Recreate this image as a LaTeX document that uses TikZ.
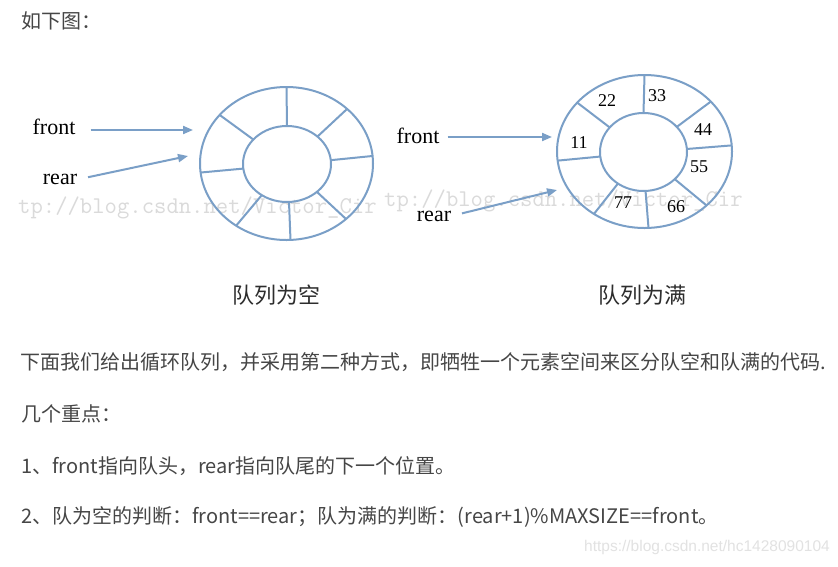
\documentclass[tikz,border=0pt]{standalone}
\usepackage{fontspec}
\setmainfont{Liberation Serif}
\setsansfont{Liberation Sans}
\newfontfamily\cjk{Noto Sans CJK SC}
\usetikzlibrary{arrows.meta,shapes.geometric}

\definecolor{ringblue}{RGB}{122,159,199}
\definecolor{bodygray}{RGB}{70,70,70}
\definecolor{capgray}{RGB}{45,45,45}
\definecolor{wmgray}{RGB}{218,218,218}
\definecolor{urlgray}{RGB}{226,226,226}

\begin{document}
\begin{tikzpicture}[
  x=1pt, y=-1pt,
  ring/.style={ellipse, draw=ringblue, line width=2pt, inner sep=0pt, outer sep=0pt},
  spoke/.style={draw=ringblue, line width=2pt},
  arr/.style={-{Triangle[length=10pt, width=8pt]}, draw=ringblue, line width=2pt, shorten <=11pt},
  ptr/.style={font=\fontsize{22}{24}\selectfont, text=black, inner sep=0pt},
  num/.style={font=\fontsize{18}{20}\selectfont, text=black, inner sep=0pt},
  capt/.style={font=\cjk\fontsize{22}{24}\selectfont, text=capgray, inner sep=0pt},
  para/.style={font=\cjk\fontsize{20}{24}\selectfont, text=bodygray, anchor=west, inner sep=0pt},
  wmark/.style={font=\ttfamily\fontsize{24}{24}\selectfont, text=wmgray, anchor=west, inner sep=0pt},
]
  \fill[white] (0,0) rectangle (838,566);
  \useasboundingbox (0,0) rectangle (838,566);

  % Watermarks behind the rings
  \node[wmark] (wmL) at (18,208) {tp://blog.csdn.net/Victor\_Cir};
  \node[wmark] (wmR) at (384,201) {tp://blog.csdn.net/Victor\_Cir};

  % Intro line
  \node[para] (intro) at (21,21) {如下图：};

  % Empty queue
  \node[ring, minimum width=173pt, minimum height=153pt] (outL) at (286.5,163.5) {};
  \node[ring, minimum width=88pt, minimum height=76pt] (inL) at (287,164) {};
  \foreach \a in {90,42,5,-43,-87,-129,-174,144}
    \draw[spoke] (inL.\a) -- (outL.\a);

  \node[ptr] (frontL) at (54,127) {front};
  \node[ptr] (rearL) at (60,179.5) {rear};
  \coordinate (frontLtip) at (193,130);
  \coordinate (rearLtip) at (188,156);
  \draw[arr, shorten <=15pt] (frontL.east |- frontLtip) -- (frontLtip);
  \draw[arr] (rearL.east) -- (rearLtip);

  % Full queue
  \node[ring, minimum width=175pt, minimum height=153pt] (outR) at (644.5,151.5) {};
  \node[ring, minimum width=87pt, minimum height=78pt] (inR) at (643.5,152) {};
  \foreach \a in {90,37,4,-41,-87,-129,-174,144}
    \draw[spoke] (inR.\a) -- (outR.\a);

  \node[num] (n11) at (579,143) {11};
  \node[num] (n22) at (607,101) {22};
  \node[num] (n33) at (657,96) {33};
  \node[num] (n44) at (703,130) {44};
  \node[num] (n55) at (699,167) {55};
  \node[num] (n66) at (676,207) {66};
  \node[num] (n77) at (623,203) {77};

  \node[ptr] (frontR) at (418,135.5) {front};
  \node[ptr] (rearR) at (434,216) {rear};
  \coordinate (frontRtip) at (552,137);
  \coordinate (rearRtip) at (557,190);
  \draw[arr, shorten <=8pt] (frontR.east |- frontRtip) -- (frontRtip);
  \draw[arr] (rearR.east) -- (rearRtip);

  % Captions
  \node[capt] (capL) at (276,295) {队列为空};
  \node[capt] (capR) at (642,295) {队列为满};

  % Text below
  \node[para] (say) at (20,362)
    {下面我们给出循环队列，并采用第二种方式，即牺牲一个元素空间来区分队空和队满的代码.};
  \node[para] (keys) at (21,414) {几个重点：};
  \node[para] (pt1) at (21,466) {1、front指向队头，rear指向队尾的下一个位置。};
  \node[para] (pt2) at (21,517)
    {2、队为空的判断：front==rear；队为满的判断：(rear+1)\%MAXSIZE==front。};

  \node[font=\sffamily\fontsize{15.5}{16}\selectfont, text=urlgray, anchor=east, inner sep=0pt]
    (url) at (830,547) {https://blog.csdn.net/hc1428090104};
\end{tikzpicture}
\end{document}
